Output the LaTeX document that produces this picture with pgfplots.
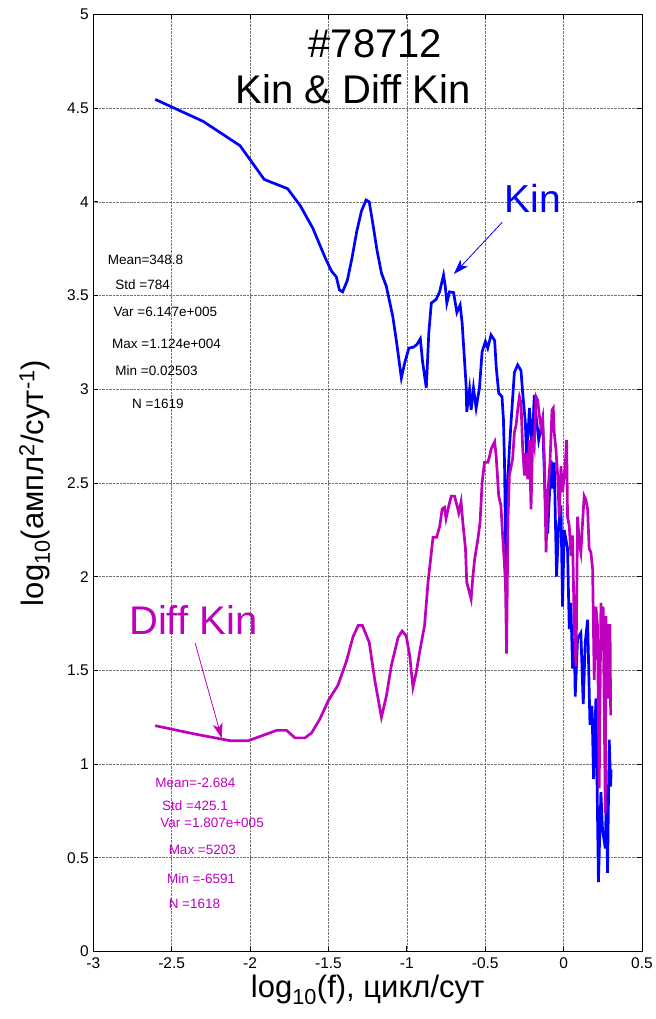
\documentclass[border=0pt]{standalone}
\usepackage{fontspec}
\setmainfont{Liberation Sans}
\usepackage{pgfplots}
\pgfplotsset{compat=1.18}
\usetikzlibrary{arrows.meta}
\definecolor{kin}{RGB}{0,0,255}
\definecolor{dkin}{RGB}{191,0,191}
\begin{document}
\begin{tikzpicture}[x=1bp,y=1bp]
\path[use as bounding box] (0,0) rectangle (656,1019);
\begin{axis}[
  at={(93.3bp,67.5bp)}, anchor=south west,
  width=548.7bp, height=937bp, scale only axis,
  xmin=-3, xmax=0.5, ymin=0, ymax=5,
  xtick={-3,-2.5,-2,-1.5,-1,-0.5,0,0.5},
  ytick={0,0.5,1,1.5,2,2.5,3,3.5,4,4.5,5},
  xticklabels={-3,-2.5,-2,-1.5,-1,-0.5,0,0.5},
  yticklabels={0,0.5,1,1.5,2,2.5,3,3.5,4,4.5,5},
  tick align=inside, major tick length=5bp,
  grid=major, grid style={black!55, densely dotted, line width=0.7bp},
  axis line style={line width=1bp},
  tick style={black, line width=0.8bp},
  ticklabel style={font=\fontsize{15.5bp}{18bp}\selectfont},
  xticklabel style={yshift=-3bp},
  yticklabel style={xshift=-1bp},
  clip=false,
]
\addplot[kin, line width=2.7bp] coordinates {
(-2.605,4.547) (-2.30,4.43) (-2.064,4.30) (-1.91,4.12) (-1.76,4.07) (-1.68,3.98)
(-1.60,3.86) (-1.52,3.70) (-1.48,3.63) (-1.45,3.60) (-1.43,3.53) (-1.41,3.52)
(-1.38,3.58) (-1.35,3.70) (-1.32,3.84) (-1.29,3.95) (-1.26,4.01) (-1.24,4.00)
(-1.22,3.90) (-1.19,3.74) (-1.162,3.62) (-1.131,3.55) (-1.09,3.39) (-1.067,3.26)
(-1.035,3.06) (-1.014,3.14) (-0.987,3.22) (-0.957,3.225) (-0.935,3.24) (-0.914,3.27)
(-0.90,3.15) (-0.876,3.007) (-0.86,3.30) (-0.844,3.46) (-0.813,3.48) (-0.791,3.52)
(-0.766,3.61) (-0.755,3.55) (-0.745,3.46) (-0.728,3.52) (-0.702,3.516) (-0.681,3.41)
(-0.66,3.45) (-0.647,3.35) (-0.622,3.02) (-0.618,2.88) (-0.60,3.0) (-0.59,2.89)
(-0.575,3.007) (-0.558,2.90) (-0.537,3.007) (-0.52,3.20) (-0.499,3.255) (-0.484,3.22)
(-0.463,3.29) (-0.44,3.26) (-0.43,3.12) (-0.414,2.98) (-0.393,2.96) (-0.384,2.84)
(-0.377,2.61) (-0.372,2.29) (-0.367,1.99) (-0.357,2.50) (-0.346,2.68) (-0.335,2.83)
(-0.314,3.09) (-0.293,3.13) (-0.272,3.10) (-0.261,2.98) (-0.244,2.82) (-0.236,2.63)
(-0.218,2.90) (-0.201,2.68) (-0.187,2.97) (-0.176,2.86) (-0.159,2.73) (-0.134,2.84)
(-0.116,2.36) (-0.102,2.23) (-0.08,2.62) (-0.07,2.47) (-0.06,2.61) (-0.045,2.00)
(-0.032,2.27) (-0.017,2.38) (-0.007,1.84) (0.004,2.25) (0.025,2.15) (0.036,1.72)
(0.046,1.86) (0.057,1.51) (0.068,1.67) (0.074,1.36) (0.089,1.67) (0.11,1.70)
(0.125,1.32) (0.138,1.65) (0.153,1.77) (0.168,1.21) (0.181,1.31) (0.191,0.92)
(0.206,1.35) (0.222,0.37) (0.238,0.85) (0.248,0.65) (0.266,0.55) (0.274,0.89)
(0.28,0.42) (0.291,1.13) (0.30,0.88) (0.303,0.97)
};
\addplot[dkin, line width=2.7bp] coordinates {
(-2.605,1.205) (-2.35,1.16) (-2.128,1.125) (-2.011,1.125) (-1.83,1.18) (-1.767,1.18)
(-1.714,1.14) (-1.65,1.14) (-1.608,1.166) (-1.555,1.24) (-1.50,1.34) (-1.44,1.42)
(-1.385,1.55) (-1.343,1.68) (-1.31,1.74) (-1.284,1.74) (-1.24,1.65) (-1.205,1.45)
(-1.162,1.25) (-1.13,1.365) (-1.099,1.525) (-1.056,1.675) (-1.03,1.71) (-1.004,1.685)
(-0.982,1.58) (-0.961,1.41) (-0.94,1.49) (-0.918,1.60) (-0.887,1.74) (-0.865,1.97)
(-0.833,2.21) (-0.81,2.21) (-0.79,2.27) (-0.775,2.36) (-0.76,2.37) (-0.75,2.31)
(-0.732,2.38) (-0.717,2.43) (-0.696,2.43) (-0.68,2.38) (-0.669,2.34) (-0.654,2.40)
(-0.643,2.29) (-0.626,2.15) (-0.618,1.97) (-0.605,1.93) (-0.59,1.88) (-0.58,1.99)
(-0.568,2.09) (-0.547,2.20) (-0.533,2.29) (-0.52,2.50) (-0.505,2.61) (-0.484,2.61)
(-0.473,2.64) (-0.463,2.68) (-0.44,2.72) (-0.43,2.64) (-0.414,2.43) (-0.40,2.38)
(-0.389,2.22) (-0.371,1.97) (-0.364,1.59) (-0.355,2.30) (-0.346,2.54) (-0.325,2.63)
(-0.314,2.77) (-0.303,2.81) (-0.293,2.89) (-0.282,2.96) (-0.272,2.93) (-0.261,2.68)
(-0.25,2.54) (-0.24,2.66) (-0.229,2.52) (-0.218,2.73) (-0.208,2.36) (-0.197,2.75)
(-0.187,2.70) (-0.176,2.96) (-0.165,2.94) (-0.155,2.86) (-0.144,2.80) (-0.134,2.84)
(-0.123,2.63) (-0.112,2.13) (-0.102,2.43) (-0.087,2.61) (-0.074,2.89) (-0.066,2.90)
(-0.06,2.77) (-0.049,2.68) (-0.038,2.54) (-0.028,2.32) (-0.017,2.59) (-0.007,2.45)
(0.01,2.59) (0.019,2.73) (0.025,2.32) (0.036,2.27) (0.047,2.11) (0.057,2.22)
(0.068,1.72) (0.073,1.63) (0.079,1.52) (0.089,2.32) (0.10,2.18) (0.11,2.13)
(0.121,2.29) (0.131,2.43) (0.142,2.41) (0.153,2.36) (0.163,2.15) (0.174,2.13)
(0.185,2.04) (0.195,1.45) (0.206,1.84) (0.216,1.74) (0.227,0.87) (0.238,1.86)
(0.248,1.67) (0.252,1.84) (0.266,0.74) (0.27,1.79) (0.274,1.52) (0.287,1.35)
(0.29,1.74) (0.296,1.74) (0.30,1.26)
};
% titles
\node[anchor=base, inner sep=0, font=\fontsize{40bp}{44bp}\selectfont] at (axis cs:-1.2,4.769) {\#78712};
\node[anchor=base, inner sep=0, font=\fontsize{40bp}{44bp}\selectfont] at (axis cs:-1.342,4.526) {Kin \& Diff Kin};
% series labels
\node[anchor=base, inner sep=0, text=kin, font=\fontsize{39bp}{44bp}\selectfont] at (axis cs:-0.196,3.942) {Kin};
\node[anchor=base, inner sep=0, text=dkin, font=\fontsize{40bp}{44bp}\selectfont] at (axis cs:-2.362,1.689) {Diff Kin};
\draw[kin, line width=0.8bp, -{Stealth[length=15bp,width=10bp,inset=4bp]}] (axis cs:-0.392,3.891) -- (axis cs:-0.700,3.615);
\draw[dkin, line width=0.8bp, -{Stealth[length=15bp,width=10bp,inset=4bp]}] (axis cs:-2.350,1.645) -- (axis cs:-2.181,1.138);
% stats
\begin{scope}[every node/.style={anchor=west, inner sep=0, font=\fontsize{13.5bp}{15bp}\selectfont}]
\node at (axis cs:-2.909,3.688) {Mean=348.8};
\node at (axis cs:-2.860,3.560) {Std =784};
\node at (axis cs:-2.871,3.412) {Var =6.147e+005};
\node at (axis cs:-2.881,3.240) {Max =1.124e+004};
\node at (axis cs:-2.860,3.098) {Min =0.02503};
\node at (axis cs:-2.753,2.923) {N =1619};
\node[text=dkin] at (axis cs:-2.605,0.901) {Mean=-2.684};
\node[text=dkin] at (axis cs:-2.562,0.776) {Std =425.1};
\node[text=dkin] at (axis cs:-2.573,0.684) {Var =1.807e+005};
\node[text=dkin] at (axis cs:-2.520,0.545) {Max =5203};
\node[text=dkin] at (axis cs:-2.530,0.391) {Min =-6591};
\node[text=dkin] at (axis cs:-2.520,0.252) {N =1618};
\end{scope}
% axis labels
\node[anchor=base, inner sep=0, font=\fontsize{31bp}{34bp}\selectfont] at ([yshift=-46bp]rel axis cs:0.5,0) {log\textsubscript{10}(f), цикл/сут};
\node[anchor=base, rotate=90, inner sep=0, font=\fontsize{31bp}{34bp}\selectfont] at ([xshift=-50bp]rel axis cs:0,0.5) {log\textsubscript{10}(ампл\textsuperscript{2}/сут\textsuperscript{-1})};
\end{axis}
\end{tikzpicture}
\end{document}
